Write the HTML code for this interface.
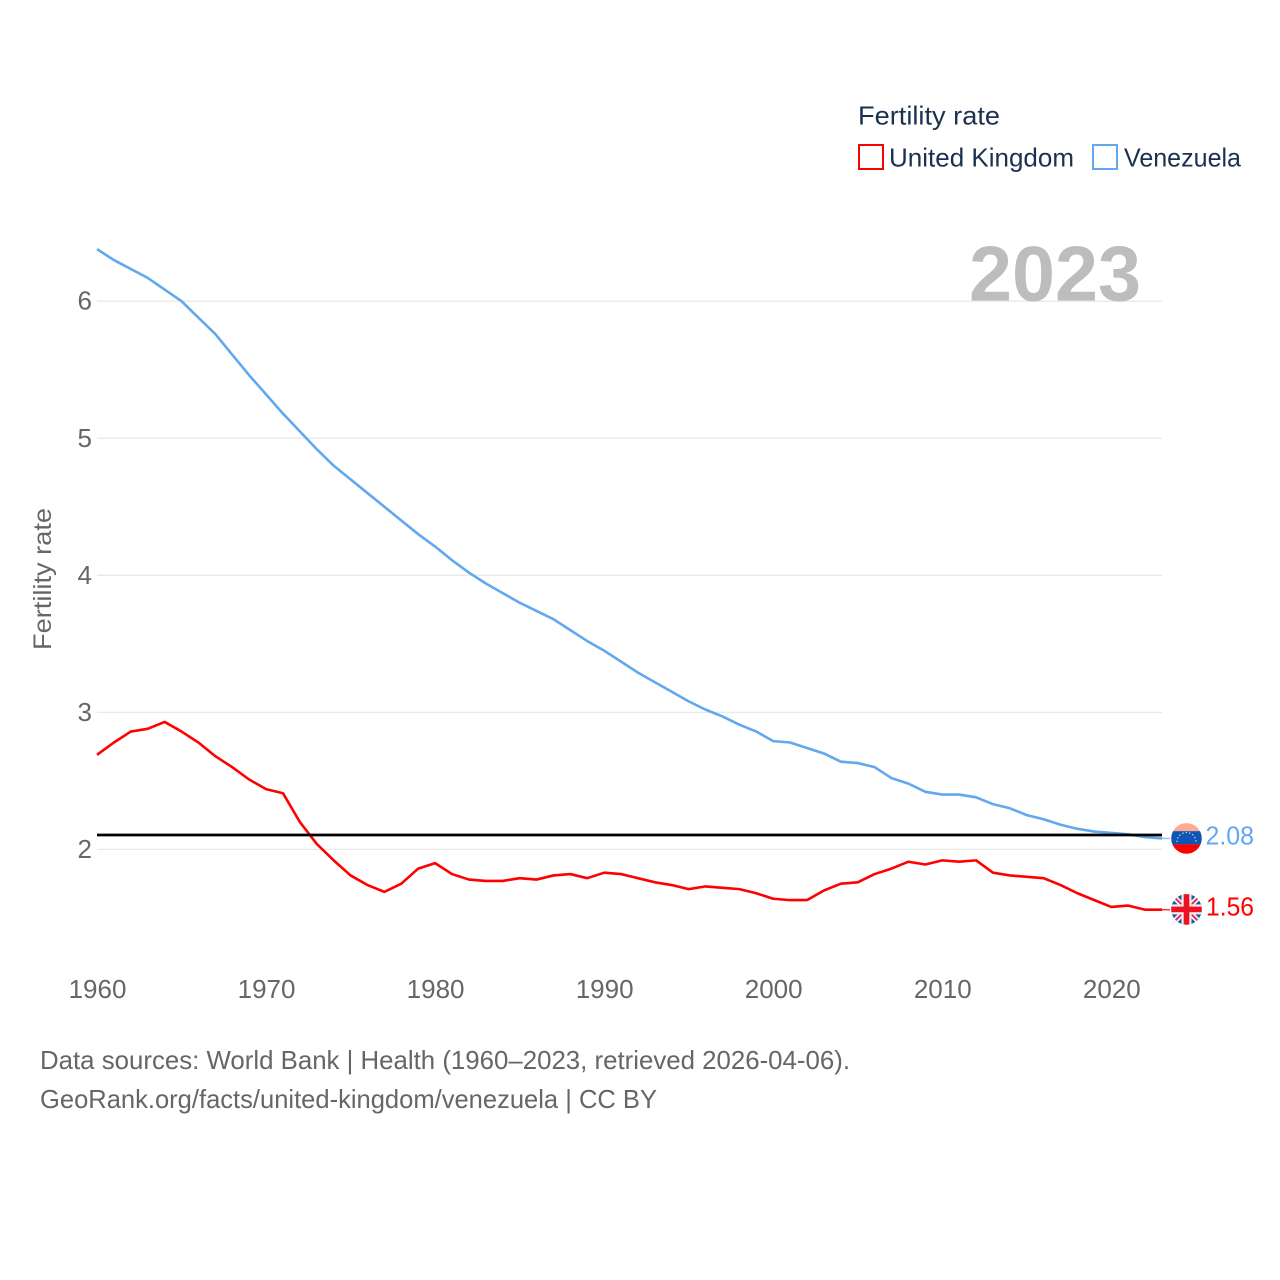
<!DOCTYPE html>
<html lang="en">
<head>
<meta charset="utf-8">
<title>Fertility rate: United Kingdom and Venezuela</title>
<style>
html,body{margin:0;padding:0;background:#fff;}
svg{display:block;font-family:"Liberation Sans",Arial,sans-serif;}
</style>
</head>
<body>
<svg id="chart" xmlns="http://www.w3.org/2000/svg" width="1280" height="1280" viewBox="0 0 1280 1280">
  <defs>
    <clipPath id="flag-clip"><circle cx="0" cy="0" r="15.3"></circle></clipPath>
  </defs>
  <rect x="0" y="0" width="1280" height="1280" fill="#ffffff"></rect>

  <text x="858" y="124.5" font-size="26" fill="#1b3150" textLength="142" lengthAdjust="spacingAndGlyphs">Fertility rate</text>
  <rect x="859" y="145" width="24" height="24" fill="#ffffff" stroke="#ff0000" stroke-width="2"></rect>
  <text x="889" y="166.5" font-size="26" fill="#1b3150" textLength="185" lengthAdjust="spacingAndGlyphs">United Kingdom</text>
  <rect x="1093" y="145" width="24" height="24" fill="#ffffff" stroke="#62a8ee" stroke-width="2"></rect>
  <text x="1124" y="166.5" font-size="26" fill="#1b3150" textLength="117" lengthAdjust="spacingAndGlyphs">Venezuela</text>

  <g id="grid-layer"></g>
  <text x="969" y="300.5" font-size="78" font-weight="700" fill="#bdbdbd" textLength="172" lengthAdjust="spacingAndGlyphs">2023</text>
  <g id="tick-layer"></g>
  <text x="0" y="0" transform="translate(51 650) rotate(-90)" font-size="25" fill="#666666" textLength="142" lengthAdjust="spacingAndGlyphs">Fertility rate</text>

  <g id="series-layer"></g>
  <g id="marker-layer"></g>

  <text x="40" y="1069" font-size="26" fill="#666666" textLength="810" lengthAdjust="spacingAndGlyphs">Data sources: World Bank | Health (1960–2023, retrieved 2026-04-06).</text>
  <text x="40" y="1108" font-size="26" fill="#666666" textLength="617" lengthAdjust="spacingAndGlyphs">GeoRank.org/facts/united-kingdom/venezuela | CC BY</text>
</svg>
<script>
const firstYear = 1960;
const unitedKingdom = [2.69,2.78,2.86,2.88,2.93,2.86,2.78,2.68,2.60,2.51,2.44,2.41,2.20,2.04,1.92,1.81,1.74,1.69,1.75,1.86,1.90,1.82,1.78,1.77,1.77,1.79,1.78,1.81,1.82,1.79,1.83,1.82,1.79,1.76,1.74,1.71,1.73,1.72,1.71,1.68,1.64,1.63,1.63,1.70,1.75,1.76,1.82,1.86,1.91,1.89,1.92,1.91,1.92,1.83,1.81,1.80,1.79,1.74,1.68,1.63,1.58,1.59,1.56,1.56];
const venezuela = [6.38,6.30,6.235,6.17,6.085,6.00,5.88,5.76,5.61,5.46,5.32,5.18,5.05,4.92,4.80,4.70,4.60,4.50,4.40,4.30,4.21,4.11,4.02,3.94,3.87,3.80,3.74,3.68,3.60,3.52,3.45,3.37,3.29,3.22,3.15,3.08,3.02,2.97,2.91,2.86,2.79,2.78,2.74,2.70,2.64,2.63,2.60,2.52,2.48,2.42,2.40,2.40,2.38,2.33,2.30,2.25,2.22,2.18,2.15,2.13,2.12,2.11,2.09,2.08];
const yTicks = [2,3,4,5,6];
const xTicks = [1960,1970,1980,1990,2000,2010,2020];
const replacementRate = 2.105;

const NS = 'http://www.w3.org/2000/svg';
function xScale(year){ return 97 + (year - 1960) * 16.905; }
function yScale(v){ return 849.4 - (v - 2) * 137.05; }
function make(tag, parent, attrs){
  const el = document.createElementNS(NS, tag);
  for (const k in attrs) el.setAttribute(k, attrs[k]);
  parent.appendChild(el);
  return el;
}
function linePoints(values){
  return values.map(function(v, i){ return xScale(firstYear + i).toFixed(2) + ',' + yScale(v).toFixed(2); }).join(' ');
}

const gridLayer = document.getElementById('grid-layer');
const tickLayer = document.getElementById('tick-layer');
const seriesLayer = document.getElementById('series-layer');
const markerLayer = document.getElementById('marker-layer');
const lastYear = firstYear + venezuela.length - 1;

yTicks.forEach(function(t){
  const g = make('line', gridLayer, {x1: 97, x2: xScale(lastYear), y1: yScale(t), y2: yScale(t), stroke: '#e9e9e9', 'stroke-width': 1.3});
  
  
  const l = make('text', tickLayer, {x: 92, y: yScale(t) + 8.5, 'text-anchor': 'end', 'font-size': 26, fill: '#666666'});
  l.textContent = String(t);
  
  
});

xTicks.forEach(function(t){
  const l = make('text', tickLayer, {x: xScale(t) + 0.5, y: 998, 'text-anchor': 'middle', 'font-size': 26, fill: '#666666'});
  l.textContent = String(t);
  
  
});

const redLine = make('polyline', seriesLayer, {points: linePoints(unitedKingdom), fill: 'none', stroke: '#ff0000', 'stroke-width': 2.6, 'stroke-linejoin': 'round'});



const blueLine = make('polyline', seriesLayer, {points: linePoints(venezuela), fill: 'none', stroke: '#62a8ee', 'stroke-width': 2.6, 'stroke-linejoin': 'round'});



const refLine = make('line', seriesLayer, {x1: 97, x2: xScale(lastYear), y1: yScale(replacementRate), y2: yScale(replacementRate), stroke: '#000000', 'stroke-width': 2.8});



// End-of-line markers: connector, flag and value label.
const ukY = yScale(unitedKingdom[unitedKingdom.length - 1]);
const veY = yScale(venezuela[venezuela.length - 1]);

const ukConnector = make('line', markerLayer, {x1: xScale(lastYear), x2: 1170, y1: ukY, y2: ukY, stroke: '#ff0000', 'stroke-width': 1.5, opacity: 0.8});



const veConnector = make('line', markerLayer, {x1: xScale(lastYear), x2: 1170, y1: veY, y2: veY, stroke: '#62a8ee', 'stroke-width': 1.5, opacity: 0.7});



const veFlag = make('g', markerLayer, {transform: 'translate(1186.5 ' + veY + ')', 'clip-path': 'url(#flag-clip)'});


make('rect', veFlag, {x: -16, y: -16, width: 32, height: 8.7, fill: '#ffab92'});
make('rect', veFlag, {x: -16, y: -7.3, width: 32, height: 13.3, fill: '#0f55b4'});
make('rect', veFlag, {x: -16, y: 6, width: 32, height: 11, fill: '#ff0000'});
make('path', veFlag, {d: 'M-9.5 3.5A9.5 9.5 0 0 1 9.5 3.5', fill: 'none', stroke: '#ffffff', 'stroke-width': 1.2, 'stroke-dasharray': '1.3 2.2', opacity: 0.85});

const ukFlag = make('g', markerLayer, {transform: 'translate(1186.5 ' + (ukY - 0.3) + ')', 'clip-path': 'url(#flag-clip)'});


make('rect', ukFlag, {x: -16, y: -16, width: 32, height: 32, fill: '#1a56ad'});
make('path', ukFlag, {d: 'M-16 -16L16 16M16 -16L-16 16', stroke: '#f2f2f2', 'stroke-width': 5.5, fill: 'none'});
make('path', ukFlag, {d: 'M-16 -16L16 16M16 -16L-16 16', stroke: '#e8213a', 'stroke-width': 1.8, fill: 'none'});
make('rect', ukFlag, {x: -5, y: -16, width: 10, height: 32, fill: '#eeeeee'});
make('rect', ukFlag, {x: -16, y: -5, width: 32, height: 10, fill: '#eeeeee'});
make('rect', ukFlag, {x: -2.8, y: -16, width: 5.6, height: 32, fill: '#f01020'});
make('rect', ukFlag, {x: -16, y: -2.8, width: 32, height: 5.6, fill: '#f01020'});

const veLabel = make('text', markerLayer, {x: 1205.5, y: veY + 6, 'font-size': 26, fill: '#62a8ee', textLength: 48.5, lengthAdjust: 'spacingAndGlyphs'});
veLabel.textContent = venezuela[venezuela.length - 1].toFixed(2);



const ukLabel = make('text', markerLayer, {x: 1206, y: ukY + 6, 'font-size': 26, fill: '#ff0000', textLength: 48, lengthAdjust: 'spacingAndGlyphs'});
ukLabel.textContent = unitedKingdom[unitedKingdom.length - 1].toFixed(2);


</script>
</body>
</html>
